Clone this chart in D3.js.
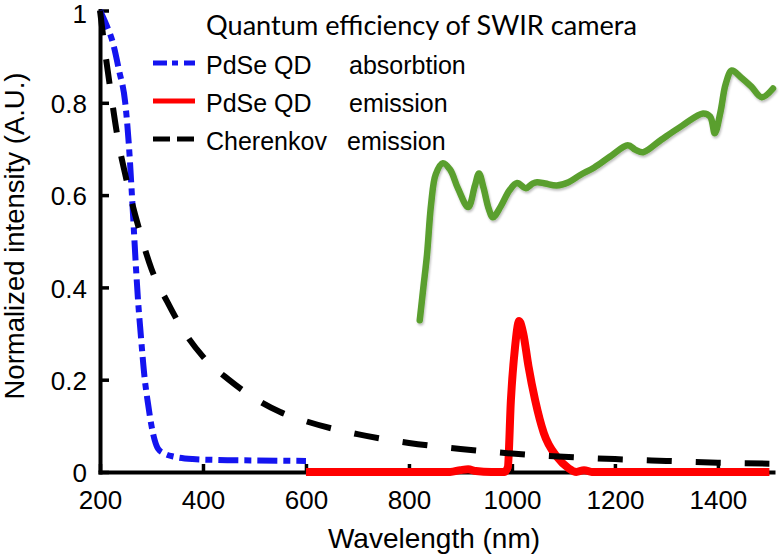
<!DOCTYPE html>
<html>
<head>
<meta charset="utf-8">
<script src="https://cdn.jsdelivr.net/npm/d3@7"></script>
<style>
  body { margin: 0; background: #fff; }
  svg { display: block; font-family: "Liberation Sans", Arial, sans-serif; }
</style>
</head>
<body>
<div id="chart"></div>
<script>
// ---- data ----
var xTicks = [200, 400, 600, 800, 1000, 1200, 1400];
var xTickLabels = ["200", "400", "600", "800", "1000", "1200", "1400"];
var yTicks = [0, 0.2, 0.4, 0.6, 0.8, 1];
var yTickLabels = ["0", "0.2", "0.4", "0.6", "0.8", "1"];

var qeWl = [821, 828, 835, 843, 852, 866, 880, 895, 915, 928, 936, 945, 955, 963, 978, 995, 1010, 1027, 1040, 1049, 1065, 1087, 1110, 1132, 1160, 1190, 1225, 1240, 1255, 1290, 1330, 1371, 1385, 1394, 1405, 1415, 1427, 1445, 1465, 1485, 1507];
var qeVal = [0.329, 0.40, 0.47, 0.58, 0.645, 0.669, 0.655, 0.615, 0.574, 0.62, 0.647, 0.615, 0.57, 0.552, 0.575, 0.61, 0.626, 0.615, 0.625, 0.628, 0.625, 0.621, 0.628, 0.643, 0.66, 0.683, 0.708, 0.698, 0.693, 0.72, 0.75, 0.777, 0.77, 0.734, 0.78, 0.84, 0.87, 0.855, 0.835, 0.812, 0.831];

var absWl = [200, 212, 225, 237, 249, 256, 262, 266, 270, 274, 279, 287, 293, 300, 306, 313, 325, 345, 380, 430, 500, 600];
var absVal = [1.0, 0.97, 0.93, 0.87, 0.8, 0.71, 0.6, 0.52, 0.44, 0.37, 0.3, 0.2, 0.15, 0.1, 0.07, 0.05, 0.04, 0.033, 0.028, 0.026, 0.025, 0.024];

var emWl = [600, 880, 900, 915, 930, 960, 985, 992, 998, 1006, 1014, 1022, 1032, 1045, 1062, 1088, 1110, 1125, 1140, 1155, 1500];
var emVal = [0, 0, 0.004, 0.006, 0.002, 0, 0, 0.01, 0.156, 0.27, 0.327, 0.3, 0.23, 0.156, 0.084, 0.032, 0.008, 0, 0.004, 0, 0];

var chWl = [200, 210, 220, 235, 250, 275, 300, 330, 360, 400, 450, 500, 550, 600, 700, 800, 900, 1000, 1100, 1200, 1300, 1400, 1500];
var chVal = [1.0, 0.91, 0.83, 0.72, 0.64, 0.53, 0.44, 0.37, 0.31, 0.25, 0.2, 0.16, 0.13, 0.11, 0.082, 0.063, 0.05, 0.04, 0.033, 0.028, 0.024, 0.02, 0.018];

// legend labels: name part and second word, as spaced in the figure
var legendNames = ["Quantum efficiency of SWIR camera", "PdSe QD", "PdSe QD", "Cherenkov"];
var legendKinds = ["", "absorbtion", "emission", "emission"];

// ---- layout ----
var width = 780, height = 556;
var x = d3.scaleLinear().domain([200, 1507]).range([100, 773]);
var y = d3.scaleLinear().domain([0, 1]).range([472, 10.5]);

var svg = d3.select("#chart").append("svg")
    .attr("width", width)
    .attr("height", height);

var defs = svg.append("defs");
var f = defs.append("filter").attr("id", "shadow")
    .attr("x", "-5%").attr("y", "-5%").attr("width", "110%").attr("height", "120%");
f.append("feDropShadow").attr("dx", 1).attr("dy", 2).attr("stdDeviation", 1.2)
    .attr("flood-color", "#000").attr("flood-opacity", 0.25);

// axes
var xAxis = d3.axisBottom(x)
    .tickValues(xTicks)
    .tickFormat(function(d, i) { return xTickLabels[i]; })
    .tickSizeInner(-8).tickSizeOuter(0).tickPadding(19);
var yAxis = d3.axisLeft(y)
    .tickValues(yTicks)
    .tickFormat(function(d, i) { return yTickLabels[i]; })
    .tickSizeInner(-9).tickSizeOuter(0).tickPadding(13);

var gx = svg.append("g").attr("transform", "translate(0,472)").call(xAxis);
var gy = svg.append("g").attr("transform", "translate(100,0)").call(yAxis);

[gx, gy].forEach(function(g) {
  g.select(".domain").attr("stroke", "#000").attr("stroke-width", 4).attr("stroke-linecap", "square");
  g.selectAll(".tick line").attr("stroke", "#000").attr("stroke-width", 3.5);
  g.selectAll(".tick text").attr("fill", "#000").style("font-size", "26px")
    .style("font-family", "'Liberation Sans', Arial, sans-serif");
});
// top label sits against the edge, nudge it down a little
gy.selectAll(".tick text").attr("dy", function(d) { return d === 1 ? "0.48em" : "0.38em"; });

// axis titles
svg.append("text")
    .attr("x", 434).attr("y", 548)
    .attr("text-anchor", "middle")
    .style("font-size", "28px")
    .text("Wavelength (nm)");

svg.append("text")
    .attr("transform", "translate(24,236) rotate(-90)")
    .attr("text-anchor", "middle")
    .style("font-size", "27.5px")
    .text("Normalized intensity (A.U.)");

// curves
function pts(wl, val) {
  return wl.map(function(w, i) { return [w, val[i]]; });
}
var line = d3.line()
    .x(function(d) { return x(d[0]); })
    .y(function(d) { return y(d[1]); })
    .curve(d3.curveMonotoneX);
var lineSmooth = d3.line()
    .x(function(d) { return x(d[0]); })
    .y(function(d) { return y(d[1]); })
    .curve(d3.curveCatmullRom.alpha(0.5));

svg.append("path")
    .attr("d", lineSmooth(pts(qeWl, qeVal)))
    .attr("fill", "none").attr("stroke", "#5a9f2e").attr("stroke-width", 6.5)
    .attr("stroke-linejoin", "round").attr("stroke-linecap", "round")
    .attr("filter", "url(#shadow)");

svg.append("path")
    .attr("d", line(pts(emWl, emVal)))
    .attr("fill", "none").attr("stroke", "#ff0000").attr("stroke-width", 8)
    .attr("stroke-linejoin", "round");

svg.append("path")
    .attr("d", line(pts(absWl, absVal)))
    .attr("fill", "none").attr("stroke", "#1414f0").attr("stroke-width", 6)
    .attr("stroke-dasharray", "20,6,7,6");

svg.append("path")
    .attr("d", line(pts(chWl, chVal)))
    .attr("fill", "none").attr("stroke", "#000").attr("stroke-width", 6)
    .attr("stroke-dasharray", "25,24");

// legend
var legendStyles = [
  {color: "#5a9f2e", dash: null, w: 6},
  {color: "#1414f0", dash: "14,5,6,6", w: 5},
  {color: "#ff0000", dash: null, w: 5},
  {color: "#000", dash: "17,7", w: 5}
];
var legendY = [24, 63, 101, 139];
var kindX = [0, 349, 349, 347];
var legend = svg.append("g");
legendNames.forEach(function(lab, i) {
  var s = legendStyles[i];
  legend.append("line")
      .attr("x1", 153).attr("x2", 195)
      .attr("y1", legendY[i]).attr("y2", legendY[i])
      .attr("stroke", s.color).attr("stroke-width", s.w)
      .attr("stroke-dasharray", s.dash)
      .attr("filter", i === 0 ? "url(#shadow)" : null);
  var t = legend.append("text")
      .attr("x", 206).attr("y", legendY[i] + 10.5)
      .style("font-size", "25px")
      .text(lab);
  if (i === 0) {
    t.style("font-family", "Lato, 'Noto Sans', sans-serif")
     .style("font-size", "26px")
     .attr("textLength", 431).attr("lengthAdjust", "spacingAndGlyphs");
  } else {
    legend.append("text")
        .attr("x", kindX[i]).attr("y", legendY[i] + 10.5)
        .style("font-size", "25px")
        .text(legendKinds[i]);
  }
});
</script>
</body>
</html>
